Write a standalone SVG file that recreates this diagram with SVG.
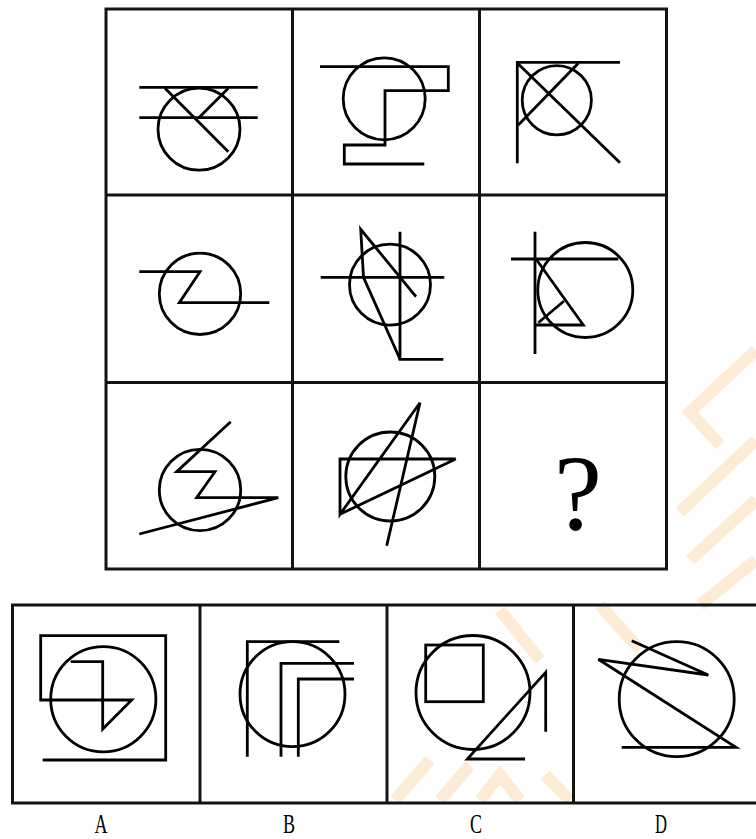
<svg xmlns="http://www.w3.org/2000/svg" width="756" height="839" viewBox="0 0 756 839">
<style>
.frame{fill:none;stroke:#141414;stroke-width:3}
.fig{fill:none;stroke:#000;stroke-width:2.8;stroke-linejoin:miter;stroke-linecap:butt}
.wm{fill:none;stroke:#feebd6;stroke-width:12;stroke-linecap:butt}
.lbl{font-family:"Liberation Serif","DejaVu Serif",serif;font-size:28px;fill:#000;text-anchor:middle}
.q{font-family:"Liberation Serif","DejaVu Serif",serif;font-size:108px;fill:#000;text-anchor:middle}
</style>
<rect width="756" height="839" fill="#fff"/>
<g id="watermark">
<polyline class="wm" points="756,350 690,412 720,445"/>
<line class="wm" x1="680" y1="512" x2="756" y2="440"/>
<line class="wm" x1="690" y1="560" x2="756" y2="500"/>
<line class="wm" x1="500" y1="610" x2="540" y2="660"/>
<line class="wm" x1="600" y1="605" x2="640" y2="650"/>
<line class="wm" x1="700" y1="605" x2="756" y2="560"/>
<line class="wm" x1="395" y1="800" x2="430" y2="760"/>
<line class="wm" x1="440" y1="800" x2="470" y2="765"/>
<polyline class="wm" points="480,800 500,775 520,800"/>
<line class="wm" x1="545" y1="775" x2="570" y2="800"/>
</g>
<g id="grid">
<rect class="frame" x="106" y="9" width="560.5" height="560"/>
<line class="frame" x1="292.5" y1="9" x2="292.5" y2="569"/>
<line class="frame" x1="479.5" y1="9" x2="479.5" y2="569"/>
<line class="frame" x1="106" y1="195" x2="666.5" y2="195"/>
<line class="frame" x1="106" y1="382.5" x2="666.5" y2="382.5"/>
</g>
<g id="cell-1-1">
<circle class="fig" cx="199" cy="129.2" r="41"/>
<line class="fig" x1="139.3" y1="87.3" x2="257.7" y2="87.3"/>
<line class="fig" x1="139.3" y1="117.7" x2="257.7" y2="117.7"/>
<line class="fig" x1="165" y1="88.3" x2="228.3" y2="151.7"/>
<line class="fig" x1="228.3" y1="88.3" x2="198.3" y2="118.3"/>
</g>
<g id="cell-1-2">
<circle class="fig" cx="384.2" cy="98.8" r="41"/>
<polyline class="fig" points="320,66.7 448.3,66.7 448.3,90.7 385,90.7 385,145 344.3,145 344.3,164 424.3,164"/>
</g>
<g id="cell-1-3">
<circle class="fig" cx="556.8" cy="100.3" r="34.6"/>
<polyline class="fig" points="517.3,163.3 517.3,62.3 620,62.3"/>
<line class="fig" x1="518.3" y1="64" x2="620" y2="162.7"/>
<line class="fig" x1="578.3" y1="63.3" x2="518.3" y2="125"/>
</g>
<g id="cell-2-1">
<circle class="fig" cx="200" cy="293.8" r="40.7"/>
<polyline class="fig" points="139.3,271.7 200,271.7 179.3,302.7 269.3,302.7"/>
</g>
<g id="cell-2-2">
<circle class="fig" cx="390" cy="284.7" r="40.5"/>
<line class="fig" x1="320.7" y1="277.3" x2="444.3" y2="277.3"/>
<polyline class="fig" points="400,231.7 400,359.3 443.3,359.3"/>
<polyline class="fig" points="416,296.7 360.7,229.3 363.5,277.3 400,359.3"/>
</g>
<g id="cell-2-3">
<circle class="fig" cx="585.3" cy="290" r="47.5"/>
<line class="fig" x1="535" y1="231.7" x2="535" y2="354"/>
<line class="fig" x1="511" y1="259" x2="618.3" y2="259"/>
<polyline class="fig" points="536,259 583.3,325 536,325"/>
<line class="fig" x1="538.3" y1="322.7" x2="564" y2="301"/>
</g>
<g id="cell-3-1">
<circle class="fig" cx="200" cy="490" r="40.7"/>
<polyline class="fig" points="230.7,421.7 176.7,471.7 215,471.7 196.7,497.7 278.3,497.7 139.3,534"/>
</g>
<g id="cell-3-2">
<circle class="fig" cx="390.3" cy="476.5" r="44.5"/>
<polyline class="fig" points="386.7,545.7 420,402.7 340,514.3 340,459 455.7,459 340,514.3"/>
</g>
<g id="cell-3-3">
<text class="q" x="578" y="529">?</text>
</g>
<g id="options-frame">
<line class="frame" x1="11" y1="605" x2="756" y2="605" stroke-width="3.5"/>
<line class="frame" x1="11" y1="803" x2="756" y2="803" stroke-width="3.5"/>
<line class="frame" x1="12.5" y1="605" x2="12.5" y2="803" stroke-width="3.5"/>
<line class="frame" x1="200" y1="605" x2="200" y2="803" stroke-width="3.5"/>
<line class="frame" x1="387" y1="605" x2="387" y2="803" stroke-width="3.5"/>
<line class="frame" x1="573.5" y1="605" x2="573.5" y2="803" stroke-width="3.5"/>
</g>
<g id="option-A">
<circle class="fig" cx="103.3" cy="699.2" r="52.6"/>
<polyline class="fig" points="42.7,760 165.7,760 165.7,635.7 40.7,635.7 40.7,700 131.7,700 102.7,729 102.7,661.7 70.7,661.7"/>
<text class="lbl" x="101" y="833" textLength="13" lengthAdjust="spacingAndGlyphs">A</text>
</g>
<g id="option-B">
<circle class="fig" cx="292.5" cy="694.2" r="52.5"/>
<polyline class="fig" points="247.3,756.7 247.3,641.7 339.3,641.7"/>
<polyline class="fig" points="281,756.7 281,663.3 354,663.3"/>
<polyline class="fig" points="298.3,756.7 298.3,679 354,679"/>
<text class="lbl" x="289" y="833" textLength="12" lengthAdjust="spacingAndGlyphs">B</text>
</g>
<g id="option-C">
<circle class="fig" cx="473" cy="692.5" r="57"/>
<rect class="fig" x="425.7" y="645" width="57.6" height="56.7"/>
<polyline class="fig" points="545.7,731.7 545.7,672.3 467.3,759 525,759"/>
<text class="lbl" x="476" y="833" textLength="12" lengthAdjust="spacingAndGlyphs">C</text>
</g>
<g id="option-D">
<circle class="fig" cx="676.7" cy="699.2" r="57.5"/>
<polyline class="fig" points="621.7,747.3 736,747.3 598.3,659.3 708.3,675 631.7,640.7"/>
<text class="lbl" x="661" y="833" textLength="12" lengthAdjust="spacingAndGlyphs">D</text>
</g>
</svg>
